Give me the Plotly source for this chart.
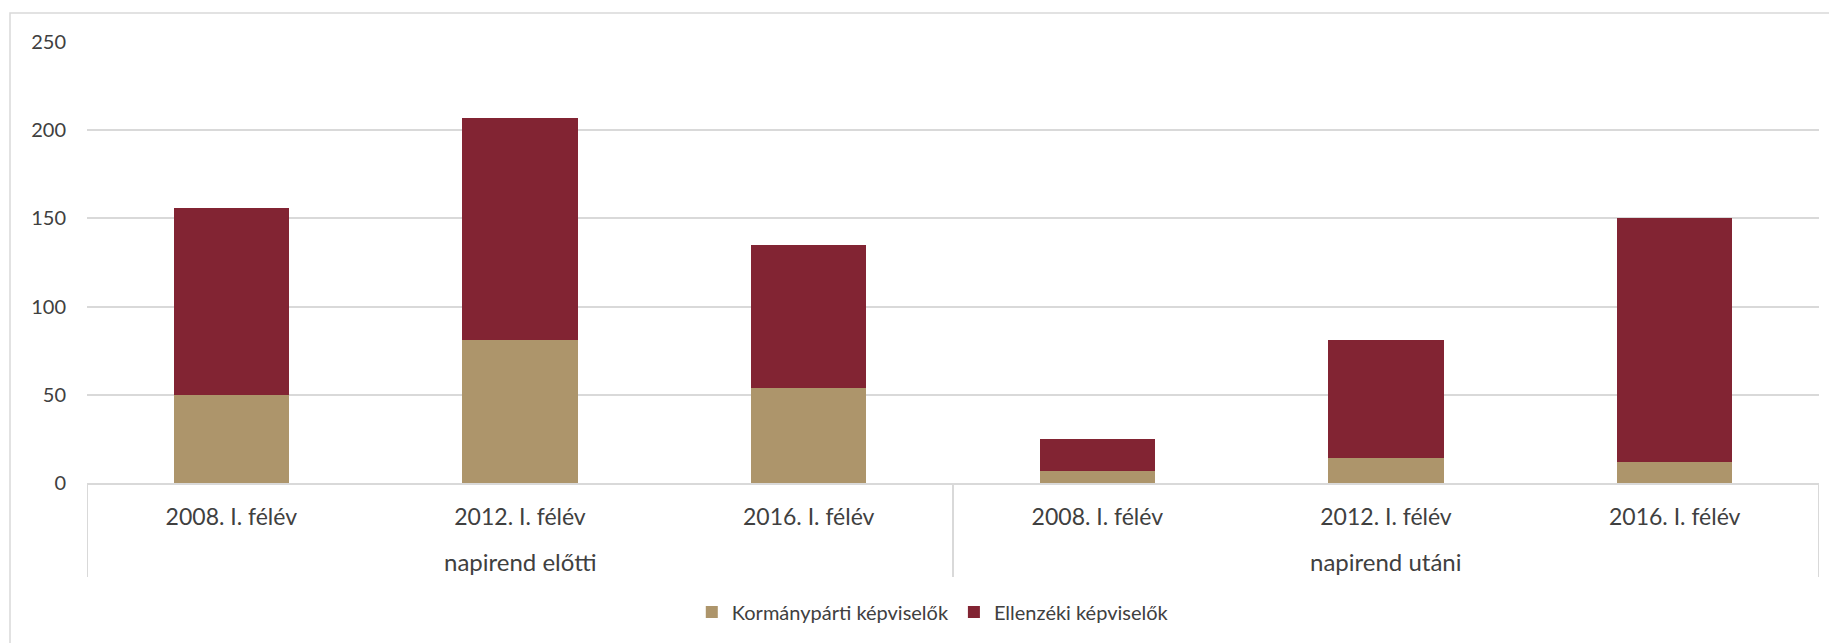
import plotly.graph_objects as go

groups = ["napirend előtti", "napirend utáni"]
periods = ["2008. I. félév", "2012. I. félév", "2016. I. félév"] * 2
gov_values = [50, 81, 54, 7, 14, 12]
opp_values = [106, 126, 81, 18, 67, 138]
series_names = ["Kormánypárti képviselők", "Ellenzéki képviselők"]
y_ticks = [0, 50, 100, 150, 200, 250]

TAN = "#AD956B"
MAROON = "#822433"
TEXT = "#404040"
GRID = "#D9D9D9"
FONT = "Lato, Calibri, Carlito, sans-serif"

x_pos = list(range(len(periods)))

fig = go.Figure()
fig.add_trace(go.Bar(x=x_pos, y=gov_values, name=series_names[0],
                     marker=dict(color=TAN, line=dict(width=0))))
fig.add_trace(go.Bar(x=x_pos, y=opp_values, name=series_names[1],
                     marker=dict(color=MAROON, line=dict(width=0))))

H = 441  # plot height px
fig.update_layout(
    width=1829, height=643,
    barmode="stack", bargap=0.6,
    plot_bgcolor="white", paper_bgcolor="white",
    margin=dict(l=87, r=10, t=42, b=160, autoexpand=False),
    font=dict(family=FONT, size=21, color=TEXT),
    legend=dict(orientation="h", xref="container", yref="container",
                x=0.51, xanchor="center", y=1 - 612 / 643, yanchor="middle",
                font=dict(size=20, color=TEXT), traceorder="normal",
                itemwidth=30),
    showlegend=True,
)
fig.update_yaxes(range=[0, 250], tickvals=y_ticks, showgrid=True, gridcolor=GRID, gridwidth=1.5,
                 zeroline=False, showline=False, ticks="", ticklabelstandoff=20,
                 tickfont=dict(size=20, color=TEXT))
fig.update_xaxes(range=[-0.5, len(periods) - 0.5], tickvals=x_pos, ticktext=periods,
                 showline=True, linecolor=GRID, linewidth=2, showgrid=False, zeroline=False,
                 ticks="", ticklabelstandoff=12, tickfont=dict(size=23, color=TEXT))

# group labels and dividers
for gi, g in enumerate(groups):
    fig.add_annotation(x=gi * 3 + 1, y=-(561 - 483) / H, xref="x", yref="paper", text=g,
                       showarrow=False, yanchor="middle", font=dict(size=24, color=TEXT))
for xd in [-0.5, 2.5, 5.5]:
    fig.add_shape(type="line", xref="x", yref="paper", x0=xd, x1=xd, y0=0, y1=-(577 - 483) / H,
                  line=dict(color=GRID, width=2))

# outer chart border
fig.add_shape(type="rect", xref="paper", yref="paper",
              x0=(10 - 87) / 1732, x1=1.2, y0=-2, y1=(483 - 13) / H,
              line=dict(color=GRID, width=1.5), fillcolor="rgba(0,0,0,0)", layer="below")

fig.write_html("out.html", config={"displayModeBar": False})

# remove default page margin so the figure sits at the window origin
with open("out.html", encoding="utf-8") as f:
    html = f.read()
html = html.replace("<body>", '<body style="margin:0;overflow:hidden">', 1)
with open("out.html", "w", encoding="utf-8") as f:
    f.write(html)
